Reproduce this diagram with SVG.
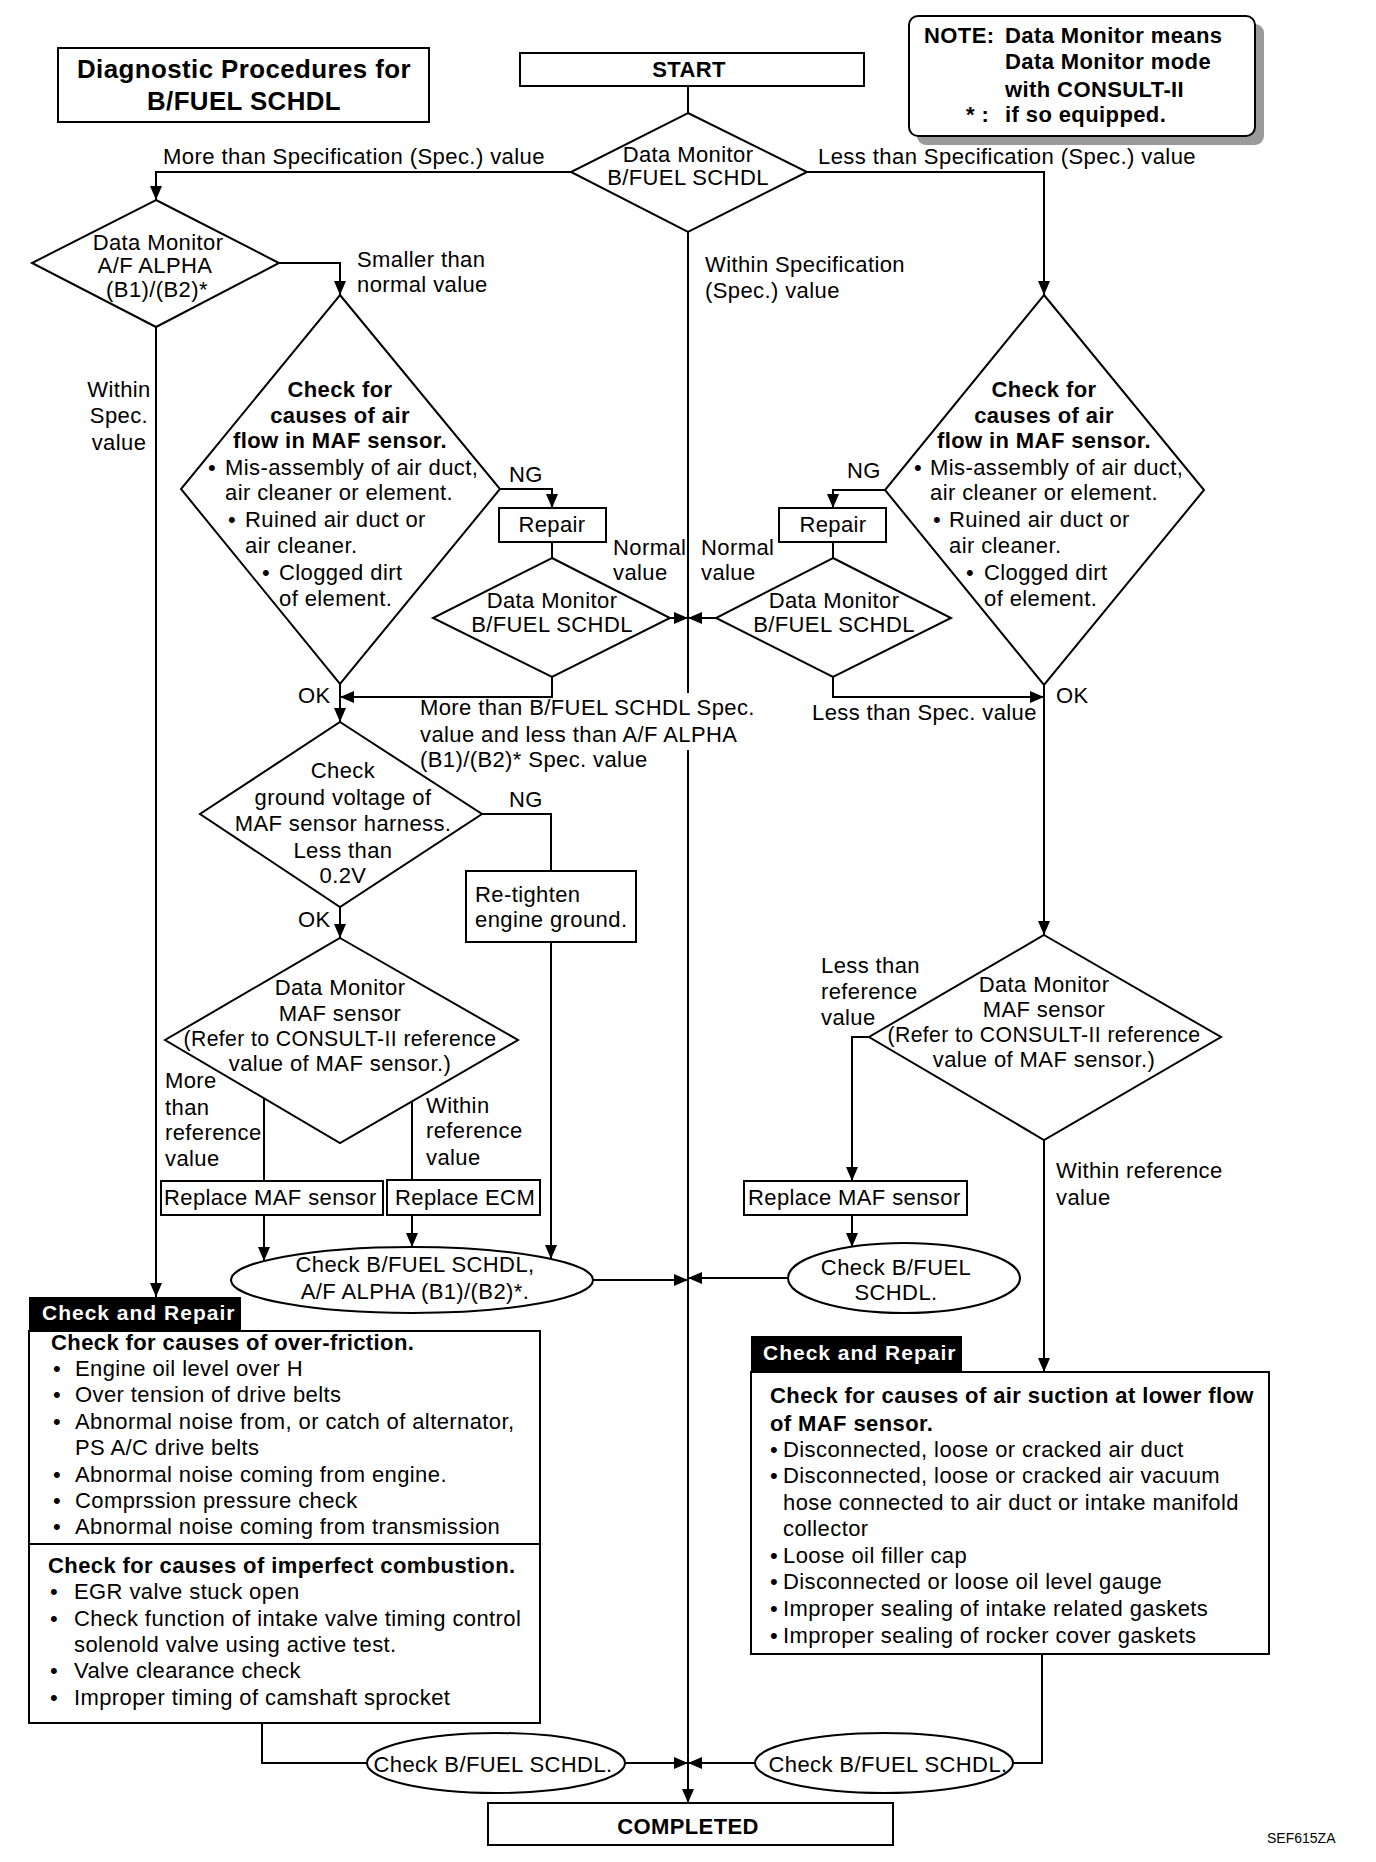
<svg xmlns="http://www.w3.org/2000/svg" width="1376" height="1862" viewBox="0 0 1376 1862">
<defs>
<style>
.ln{fill:none;stroke:#000;stroke-width:2}
.bx{fill:#fff;stroke:#000;stroke-width:2}
.t{font-family:"Liberation Sans",Arial,sans-serif;font-size:22px;letter-spacing:0.4px;fill:#000}
.b{font-weight:bold}
.m{text-anchor:middle}
.w{fill:#fff;letter-spacing:1px;font-size:21px}
</style>
<marker id="ar" markerUnits="userSpaceOnUse" markerWidth="14" markerHeight="12" refX="14" refY="6" orient="auto">
<path d="M0,0 L14,6 L0,12 z" fill="#000"/>
</marker>
</defs>
<rect width="1376" height="1862" fill="#fff"/>

<g id="connectors" class="ln">
<path d="M688,86 V113"/>
<path d="M571,172 H156 V200" marker-end="url(#ar)"/>
<path d="M807,172 H1044 V295" marker-end="url(#ar)"/>
<path d="M279,263 H340 V295" marker-end="url(#ar)"/>
<path d="M156,327 V1297" marker-end="url(#ar)"/>
<path d="M500,489 H552 V508" marker-end="url(#ar)"/>
<path d="M552,542 V558"/>
<path d="M670,618 H688" marker-end="url(#ar)"/>
<path d="M716,618 H688" marker-end="url(#ar)"/>
<path d="M552,677 V697 H340" marker-end="url(#ar)"/>
<path d="M340,684 V722" marker-end="url(#ar)"/>
<path d="M482,814 H551 V871"/>
<path d="M340,907 V938" marker-end="url(#ar)"/>
<path d="M264,1098 V1181"/>
<path d="M412,1101 V1180"/>
<path d="M264,1215 V1261" marker-end="url(#ar)"/>
<path d="M412,1215 V1247" marker-end="url(#ar)"/>
<path d="M551,942 V1259" marker-end="url(#ar)"/>
<path d="M593,1280 H688" marker-end="url(#ar)"/>
<path d="M788,1278 H688" marker-end="url(#ar)"/>
<path d="M885,490 H833 V508" marker-end="url(#ar)"/>
<path d="M833,542 V558"/>
<path d="M833,677 V697 H1044" marker-end="url(#ar)"/>
<path d="M1044,685 V935" marker-end="url(#ar)"/>
<path d="M869,1037 H852 V1181" marker-end="url(#ar)"/>
<path d="M852,1215 V1247" marker-end="url(#ar)"/>
<path d="M1044,1140 V1372" marker-end="url(#ar)"/>
<path d="M262,1723 V1763 H367"/>
<path d="M625,1763 H688" marker-end="url(#ar)"/>
<path d="M1042,1654 V1763 H1013"/>
<path d="M755,1763 H688" marker-end="url(#ar)"/>
<path d="M688,232 V693"/>
<path d="M688,750 V1803" marker-end="url(#ar)"/>
</g>

<g id="title">
<rect class="bx" x="58" y="48" width="371" height="74"/>
<text class="t b m" x="244" y="78" textLength="334" lengthAdjust="spacingAndGlyphs" style="font-size:25px">Diagnostic Procedures for</text>
<text class="t b m" x="244" y="110" textLength="194" lengthAdjust="spacingAndGlyphs" style="font-size:25px">B/FUEL SCHDL</text>
</g>

<g id="note">
<rect x="917" y="24" width="347" height="121" rx="9" fill="#9a9a9a"/>
<rect class="bx" x="909" y="16" width="346" height="120" rx="9"/>
<text class="t b" x="924" y="43">NOTE:</text>
<text class="t b" x="1005" y="43">Data Monitor means</text>
<text class="t b" x="1005" y="69">Data Monitor mode</text>
<text class="t b" x="1005" y="97">with CONSULT-II</text>
<text class="t b" x="966" y="122">* :</text>
<text class="t b" x="1005" y="122">if so equipped.</text>
</g>

<g id="start">
<rect class="bx" x="520" y="53" width="344" height="33"/>
<text class="t b m" x="689" y="77">START</text>
</g>

<g id="dm-main">
<polygon class="bx" points="688,113 807,172 688,232 571,172"/>
<text class="t m" x="688" y="162">Data Monitor</text>
<text class="t m" x="688" y="185">B/FUEL SCHDL</text>
</g>

<g id="labels-top">
<text class="t" x="163" y="164" textLength="382" lengthAdjust="spacingAndGlyphs">More than Specification (Spec.) value</text>
<text class="t" x="818" y="164" textLength="378" lengthAdjust="spacingAndGlyphs">Less than Specification (Spec.) value</text>
<text class="t" x="705" y="272">Within Specification</text>
<text class="t" x="705" y="298">(Spec.) value</text>
<text class="t" x="357" y="267">Smaller than</text>
<text class="t" x="357" y="292">normal value</text>
<text class="t m" x="119" y="397">Within</text>
<text class="t m" x="119" y="423">Spec.</text>
<text class="t m" x="119" y="450">value</text>
</g>

<g id="dm-alpha">
<polygon class="bx" points="156,200 279,263 156,327 32,263"/>
<text class="t m" x="158" y="250">Data Monitor</text>
<text class="t m" x="155" y="273">A/F ALPHA</text>
<text class="t m" x="157" y="297">(B1)/(B2)*</text>
</g>

<g id="check-air-left">
<polygon class="bx" points="340,295 500,489 340,684 181,489"/>
<text class="t b m" x="340" y="397">Check for</text>
<text class="t b m" x="340" y="423">causes of air</text>
<text class="t b m" x="340" y="448">flow in MAF sensor.</text>
<text class="t" x="208" y="475">•</text>
<text class="t" x="225" y="475">Mis-assembly of air duct,</text>
<text class="t" x="225" y="500">air cleaner or element.</text>
<text class="t" x="228" y="527">•</text>
<text class="t" x="245" y="527">Ruined air duct or</text>
<text class="t" x="245" y="553">air cleaner.</text>
<text class="t" x="262" y="580">•</text>
<text class="t" x="279" y="580">Clogged dirt</text>
<text class="t" x="279" y="606">of element.</text>
</g>

<g id="check-air-right">
<polygon class="bx" points="1044,295 1204,490 1044,685 885,490"/>
<text class="t b m" x="1044" y="397">Check for</text>
<text class="t b m" x="1044" y="423">causes of air</text>
<text class="t b m" x="1044" y="448">flow in MAF sensor.</text>
<text class="t" x="914" y="475">•</text>
<text class="t" x="930" y="475">Mis-assembly of air duct,</text>
<text class="t" x="930" y="500">air cleaner or element.</text>
<text class="t" x="933" y="527">•</text>
<text class="t" x="949" y="527">Ruined air duct or</text>
<text class="t" x="949" y="553">air cleaner.</text>
<text class="t" x="966" y="580">•</text>
<text class="t" x="984" y="580">Clogged dirt</text>
<text class="t" x="984" y="606">of element.</text>
</g>

<g id="repair-left">
<rect class="bx" x="499" y="508" width="107" height="34"/>
<text class="t m" x="552" y="532">Repair</text>
</g>
<g id="repair-right">
<rect class="bx" x="779" y="508" width="107" height="34"/>
<text class="t m" x="833" y="532">Repair</text>
</g>

<g id="dm-small-left">
<polygon class="bx" points="552,558 670,618 552,677 433,618"/>
<text class="t m" x="552" y="608">Data Monitor</text>
<text class="t m" x="552" y="632">B/FUEL SCHDL</text>
</g>
<g id="dm-small-right">
<polygon class="bx" points="833,558 951,618 833,677 716,618"/>
<text class="t m" x="834" y="608">Data Monitor</text>
<text class="t m" x="834" y="632">B/FUEL SCHDL</text>
</g>

<g id="labels-mid">
<text class="t" x="509" y="482">NG</text>
<text class="t" x="847" y="478">NG</text>
<text class="t" x="613" y="555">Normal</text>
<text class="t" x="613" y="580">value</text>
<text class="t" x="701" y="555">Normal</text>
<text class="t" x="701" y="580">value</text>
<text class="t" x="298" y="703">OK</text>
<text class="t" x="1056" y="703">OK</text>
<text class="t" x="420" y="715">More than B/FUEL SCHDL Spec.</text>
<text class="t" x="420" y="742">value and less than A/F ALPHA</text>
<text class="t" x="420" y="767">(B1)/(B2)* Spec. value</text>
<text class="t" x="812" y="720">Less than Spec. value</text>
<text class="t" x="509" y="807">NG</text>
<text class="t" x="298" y="927">OK</text>
</g>

<g id="check-ground">
<polygon class="bx" points="340,722 482,814 340,907 200,814"/>
<text class="t m" x="343" y="778">Check</text>
<text class="t m" x="343" y="805">ground voltage of</text>
<text class="t m" x="343" y="831">MAF sensor harness.</text>
<text class="t m" x="343" y="858">Less than</text>
<text class="t m" x="343" y="883">0.2V</text>
</g>

<g id="retighten">
<rect class="bx" x="466" y="871" width="170" height="71"/>
<text class="t" x="475" y="902">Re-tighten</text>
<text class="t" x="475" y="927">engine ground.</text>
</g>

<g id="dm-maf-left">
<polygon class="bx" points="340,938 518,1040 340,1143 165,1040"/>
<text class="t m" x="340" y="995">Data Monitor</text>
<text class="t m" x="340" y="1021">MAF sensor</text>
<text class="t m" x="340" y="1046" textLength="313" lengthAdjust="spacingAndGlyphs">(Refer to CONSULT-II reference</text>
<text class="t m" x="340" y="1071">value of MAF sensor.)</text>
</g>

<g id="labels-maf-left">
<text class="t" x="165" y="1088">More</text>
<text class="t" x="165" y="1115">than</text>
<text class="t" x="165" y="1140">reference</text>
<text class="t" x="165" y="1166">value</text>
<text class="t" x="426" y="1113">Within</text>
<text class="t" x="426" y="1138">reference</text>
<text class="t" x="426" y="1165">value</text>
</g>

<g id="replace-maf-left">
<rect class="bx" x="161" y="1181" width="222" height="34"/>
<text class="t" x="164" y="1205">Replace MAF sensor</text>
</g>
<g id="replace-ecm">
<rect class="bx" x="387" y="1180" width="153" height="35"/>
<text class="t" x="395" y="1205">Replace ECM</text>
</g>

<g id="check-left">
<ellipse class="bx" cx="412" cy="1280" rx="181" ry="33"/>
<text class="t m" x="415" y="1272">Check B/FUEL SCHDL,</text>
<text class="t m" x="415" y="1299">A/F ALPHA (B1)/(B2)*.</text>
</g>

<g id="dm-maf-right">
<polygon class="bx" points="1044,935 1221,1037 1044,1140 869,1037"/>
<text class="t m" x="1044" y="992">Data Monitor</text>
<text class="t m" x="1044" y="1017">MAF sensor</text>
<text class="t m" x="1044" y="1042" textLength="313" lengthAdjust="spacingAndGlyphs">(Refer to CONSULT-II reference</text>
<text class="t m" x="1044" y="1067">value of MAF sensor.)</text>
</g>

<g id="labels-maf-right">
<text class="t" x="821" y="973">Less than</text>
<text class="t" x="821" y="999">reference</text>
<text class="t" x="821" y="1025">value</text>
<text class="t" x="1056" y="1178">Within reference</text>
<text class="t" x="1056" y="1205">value</text>
</g>

<g id="replace-maf-right">
<rect class="bx" x="744" y="1181" width="223" height="34"/>
<text class="t" x="748" y="1205">Replace MAF sensor</text>
</g>

<g id="check-right">
<ellipse class="bx" cx="904" cy="1278" rx="116" ry="35"/>
<text class="t m" x="896" y="1275">Check B/FUEL</text>
<text class="t m" x="896" y="1300">SCHDL.</text>
</g>

<g id="repair-box-left">
<rect x="29" y="1297" width="212" height="34" fill="#000"/>
<text class="t b w" x="42" y="1320">Check and Repair</text>
<rect class="ln" x="29" y="1331" width="511" height="392"/>
<line class="ln" x1="29" y1="1544" x2="540" y2="1544"/>
<text class="t b" x="51" y="1350">Check for causes of over-friction.</text>
<text class="t" x="53" y="1376">•</text><text class="t" x="75" y="1376">Engine oil level over H</text>
<text class="t" x="53" y="1402">•</text><text class="t" x="75" y="1402">Over tension of drive belts</text>
<text class="t" x="53" y="1429">•</text><text class="t" x="75" y="1429">Abnormal noise from, or catch of alternator,</text>
<text class="t" x="75" y="1455">PS A/C drive belts</text>
<text class="t" x="53" y="1482">•</text><text class="t" x="75" y="1482">Abnormal noise coming from engine.</text>
<text class="t" x="53" y="1508">•</text><text class="t" x="75" y="1508">Comprssion pressure check</text>
<text class="t" x="53" y="1534">•</text><text class="t" x="75" y="1534">Abnormal noise coming from transmission</text>
<text class="t b" x="48" y="1573">Check for causes of imperfect combustion.</text>
<text class="t" x="50" y="1599">•</text><text class="t" x="74" y="1599">EGR valve stuck open</text>
<text class="t" x="50" y="1626">•</text><text class="t" x="74" y="1626">Check function of intake valve timing control</text>
<text class="t" x="74" y="1652">solenold valve using active test.</text>
<text class="t" x="50" y="1678">•</text><text class="t" x="74" y="1678">Valve clearance check</text>
<text class="t" x="50" y="1705">•</text><text class="t" x="74" y="1705">Improper timing of camshaft sprocket</text>
</g>

<g id="repair-box-right">
<rect x="751" y="1336" width="211" height="36" fill="#000"/>
<text class="t b w" x="763" y="1360">Check and Repair</text>
<rect class="ln" x="751" y="1372" width="518" height="282"/>
<text class="t b" x="770" y="1403">Check for causes of air suction at lower flow</text>
<text class="t b" x="770" y="1431">of MAF sensor.</text>
<text class="t" x="770" y="1457">•</text><text class="t" x="783" y="1457">Disconnected, loose or cracked air duct</text>
<text class="t" x="770" y="1483">•</text><text class="t" x="783" y="1483">Disconnected, loose or cracked air vacuum</text>
<text class="t" x="783" y="1510">hose connected to air duct or intake manifold</text>
<text class="t" x="783" y="1536">collector</text>
<text class="t" x="770" y="1563">•</text><text class="t" x="783" y="1563">Loose oil filler cap</text>
<text class="t" x="770" y="1589">•</text><text class="t" x="783" y="1589">Disconnected or loose oil level gauge</text>
<text class="t" x="770" y="1616">•</text><text class="t" x="783" y="1616">Improper sealing of intake related gaskets</text>
<text class="t" x="770" y="1643">•</text><text class="t" x="783" y="1643">Improper sealing of rocker cover gaskets</text>
</g>

<g id="check-bottom-left">
<ellipse class="bx" cx="496" cy="1763" rx="129" ry="30"/>
<text class="t m" x="493" y="1772">Check B/FUEL SCHDL.</text>
</g>
<g id="check-bottom-right">
<ellipse class="bx" cx="884" cy="1763" rx="129" ry="30"/>
<text class="t m" x="888" y="1772">Check B/FUEL SCHDL.</text>
</g>

<g id="completed">
<rect class="bx" x="488" y="1803" width="405" height="42"/>
<text class="t b m" x="688" y="1834">COMPLETED</text>
</g>

<text class="t" x="1267" y="1843" style="font-size:14px;letter-spacing:0">SEF615ZA</text>
</svg>
